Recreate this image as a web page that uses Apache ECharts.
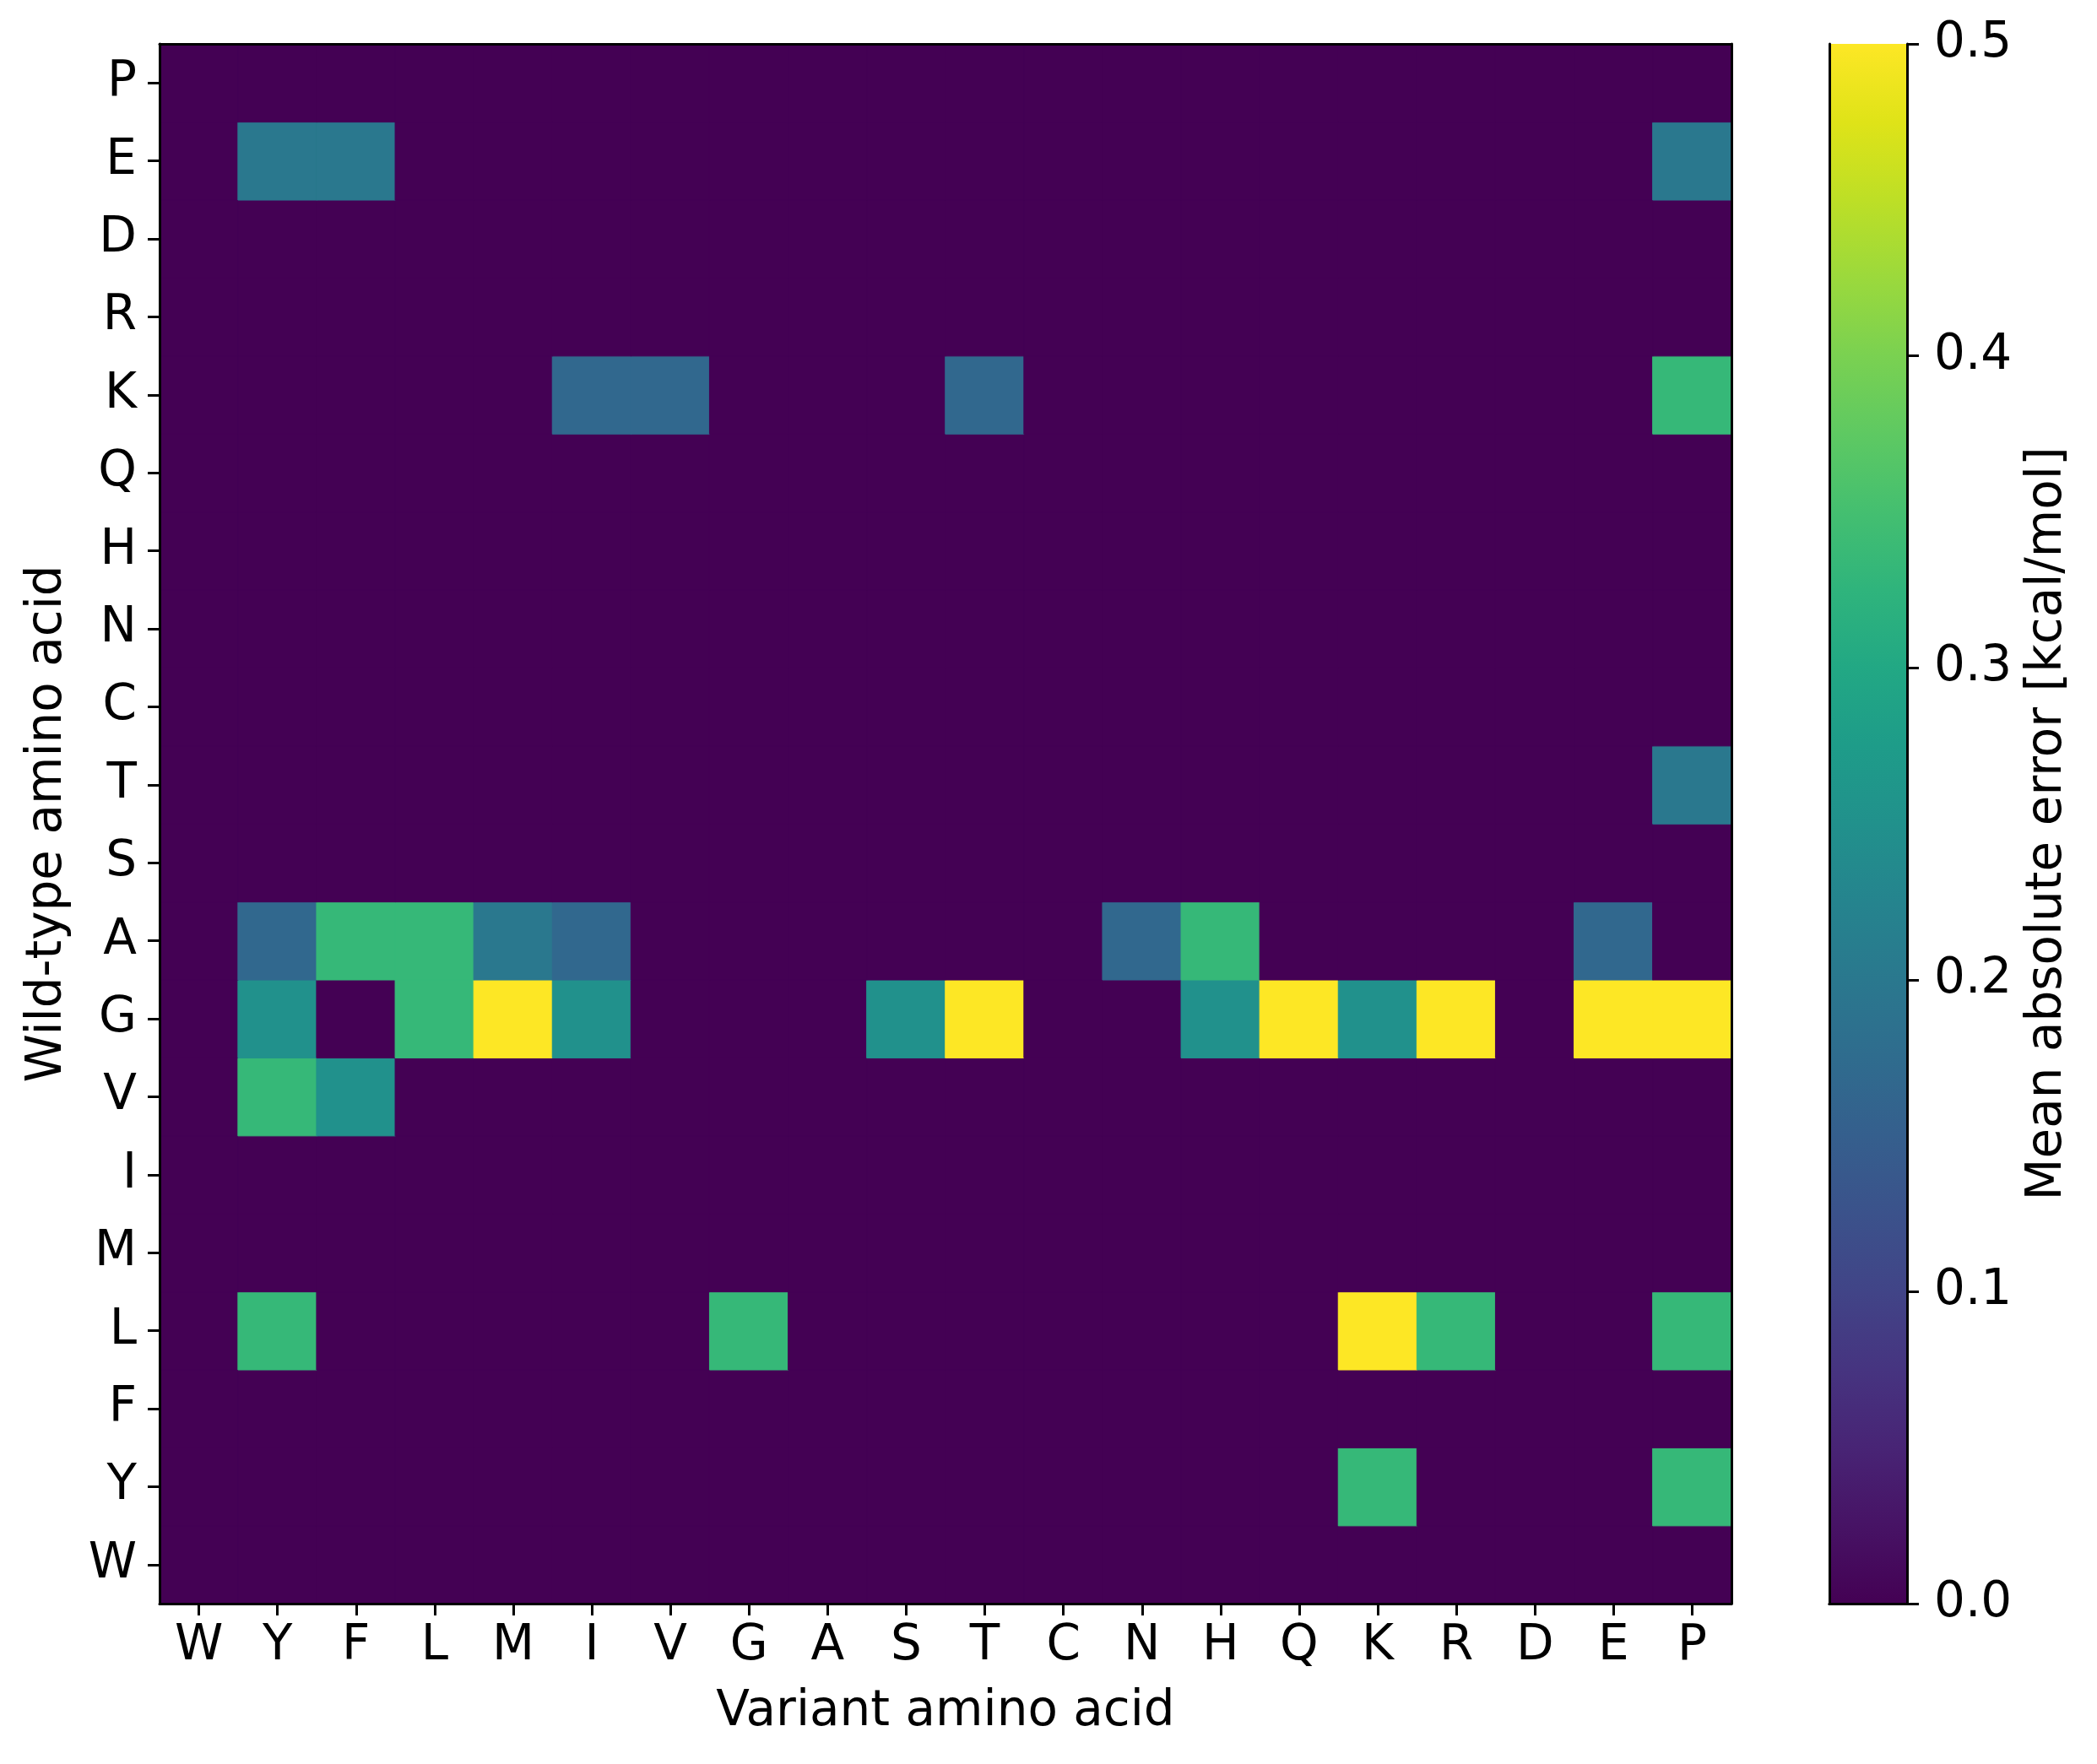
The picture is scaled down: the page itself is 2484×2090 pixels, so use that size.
<!doctype html>
<html lang="en">
<head>
    <meta charset="UTF-8">
    <title>Mean absolute error per mutation</title>
    <style>
        html, body { margin: 0; padding: 0; background: #fff; }
        #main { width: 2484px; height: 2090px; }
    </style>
</head>
<body>
<div id="main"></div>
<script type="text/javascript" src="https://cdn.jsdelivr.net/npm/echarts@6/dist/echarts.min.js"></script>
<script type="text/javascript">
    // amino acids, same order on both axes (y runs bottom to top)
    const aminoAcids = ['W', 'Y', 'F', 'L', 'M', 'I', 'V', 'G', 'A', 'S', 'T', 'C', 'N', 'H', 'Q', 'K', 'R', 'D', 'E', 'P'];
    const cbTicks = [0.0, 0.1, 0.2, 0.3, 0.4, 0.5];

    // one row per wild-type residue, values for variant W..P
    const wtW = [0, 0, 0, 0, 0, 0, 0, 0, 0, 0, 0, 0, 0, 0, 0, 0, 0, 0, 0, 0];
    const wtY = [0, 0, 0, 0, 0, 0, 0, 0, 0, 0, 0, 0, 0, 0, 0, 0.333, 0, 0, 0, 0.333];
    const wtF = [0, 0, 0, 0, 0, 0, 0, 0, 0, 0, 0, 0, 0, 0, 0, 0, 0, 0, 0, 0];
    const wtL = [0, 0.333, 0, 0, 0, 0, 0, 0.333, 0, 0, 0, 0, 0, 0, 0, 0.5, 0.333, 0, 0, 0.333];
    const wtM = [0, 0, 0, 0, 0, 0, 0, 0, 0, 0, 0, 0, 0, 0, 0, 0, 0, 0, 0, 0];
    const wtI = [0, 0, 0, 0, 0, 0, 0, 0, 0, 0, 0, 0, 0, 0, 0, 0, 0, 0, 0, 0];
    const wtV = [0, 0.333, 0.25, 0, 0, 0, 0, 0, 0, 0, 0, 0, 0, 0, 0, 0, 0, 0, 0, 0];
    const wtG = [0, 0.25, 0, 0.333, 0.5, 0.25, 0, 0, 0, 0.25, 0.5, 0, 0, 0.25, 0.5, 0.25, 0.5, 0, 0.5, 0.5];
    const wtA = [0, 0.167, 0.333, 0.333, 0.2, 0.167, 0, 0, 0, 0, 0, 0, 0.167, 0.333, 0, 0, 0, 0, 0.167, 0];
    const wtS = [0, 0, 0, 0, 0, 0, 0, 0, 0, 0, 0, 0, 0, 0, 0, 0, 0, 0, 0, 0];
    const wtT = [0, 0, 0, 0, 0, 0, 0, 0, 0, 0, 0, 0, 0, 0, 0, 0, 0, 0, 0, 0.2];
    const wtC = [0, 0, 0, 0, 0, 0, 0, 0, 0, 0, 0, 0, 0, 0, 0, 0, 0, 0, 0, 0];
    const wtN = [0, 0, 0, 0, 0, 0, 0, 0, 0, 0, 0, 0, 0, 0, 0, 0, 0, 0, 0, 0];
    const wtH = [0, 0, 0, 0, 0, 0, 0, 0, 0, 0, 0, 0, 0, 0, 0, 0, 0, 0, 0, 0];
    const wtQ = [0, 0, 0, 0, 0, 0, 0, 0, 0, 0, 0, 0, 0, 0, 0, 0, 0, 0, 0, 0];
    const wtK = [0, 0, 0, 0, 0, 0.167, 0.167, 0, 0, 0, 0.167, 0, 0, 0, 0, 0, 0, 0, 0, 0.333];
    const wtR = [0, 0, 0, 0, 0, 0, 0, 0, 0, 0, 0, 0, 0, 0, 0, 0, 0, 0, 0, 0];
    const wtD = [0, 0, 0, 0, 0, 0, 0, 0, 0, 0, 0, 0, 0, 0, 0, 0, 0, 0, 0, 0];
    const wtE = [0, 0.2, 0.2, 0, 0, 0, 0, 0, 0, 0, 0, 0, 0, 0, 0, 0, 0, 0, 0, 0.2];
    const wtP = [0, 0, 0, 0, 0, 0, 0, 0, 0, 0, 0, 0, 0, 0, 0, 0, 0, 0, 0, 0];

    // viridis, sampled every 0.05
    const viridis = ['#440154', '#471365', '#482475', '#463480', '#414487', '#3b528b', '#355f8d',
        '#2f6c8e', '#2a788e', '#25848e', '#21918c', '#1e9c89', '#22a884', '#2fb47c', '#44bf70',
        '#5ec962', '#7ad151', '#9bd93c', '#bddf26', '#dfe318', '#fde725'];
    const vMin = cbTicks[0], vMax = cbTicks[cbTicks.length - 1];

    const rowsInOrder = [wtW, wtY, wtF, wtL, wtM, wtI, wtV, wtG, wtA, wtS, wtT, wtC, wtN, wtH, wtQ, wtK, wtR, wtD, wtE, wtP];
    let cells = [];
    rowsInOrder.forEach(function (row, yi) {
        row.forEach(function (v, xi) {
            // colour through viridis, border in the same colour so neighbours meet without seams
            let t = Math.min(1, Math.max(0, (v - vMin) / (vMax - vMin)));
            let c = echarts.color.lerp(t, viridis);
            cells.push({value: [xi, yi, v], itemStyle: {color: c, borderColor: c, borderWidth: 1}});
        });
    });

    const font = 'DejaVu Sans';
    const lineBlack = {show: true, lineStyle: {color: '#000', width: 3}};
    const tickBlack = {show: true, length: 14, lineStyle: {color: '#000', width: 3}};
    const labelBlack = {color: '#000', fontSize: 58, fontFamily: font};
    const nameBlack = {color: '#000', fontSize: 58, fontFamily: font};

    let myChart = echarts.init(document.getElementById('main'));
    let option = {
        animation: false,
        backgroundColor: '#fff',
        grid: [
            {left: 189, top: 52, width: 1862, height: 1848, containLabel: false},
            {left: 2167, top: 52, width: 92, height: 1848, containLabel: false}
        ],
        xAxis: [
            {
                type: 'category', data: aminoAcids, gridIndex: 0, position: 'bottom', z: 10,
                axisLine: lineBlack, axisTick: Object.assign({alignWithLabel: true}, tickBlack),
                axisLabel: Object.assign({margin: 22, interval: 0}, labelBlack),
                splitLine: {show: false},
                name: 'Variant amino acid', nameLocation: 'middle', nameGap: 100, nameTextStyle: nameBlack
            },
            {
                type: 'category', data: aminoAcids, gridIndex: 0, position: 'top', z: 10,
                axisLine: lineBlack, axisTick: {show: false}, axisLabel: {show: false}, splitLine: {show: false}
            },
            {
                type: 'category', data: ['cb'], gridIndex: 1, position: 'bottom', z: 10,
                axisLine: lineBlack, axisTick: {show: false}, axisLabel: {show: false}, splitLine: {show: false}
            },
            {
                type: 'category', data: ['cb'], gridIndex: 1, position: 'top', z: 10,
                axisLine: lineBlack, axisTick: {show: false}, axisLabel: {show: false}, splitLine: {show: false}
            }
        ],
        yAxis: [
            {
                type: 'category', data: aminoAcids, gridIndex: 0, position: 'left', z: 10,
                axisLine: lineBlack, axisTick: Object.assign({alignWithLabel: true}, tickBlack),
                axisLabel: Object.assign({margin: 27, interval: 0}, labelBlack),
                splitLine: {show: false},
                name: 'Wild-type amino acid', nameLocation: 'middle', nameGap: 103, nameTextStyle: nameBlack
            },
            {
                type: 'category', data: aminoAcids, gridIndex: 0, position: 'right', z: 10,
                axisLine: lineBlack, axisTick: {show: false}, axisLabel: {show: false}, splitLine: {show: false}
            },
            {
                type: 'value', gridIndex: 1, position: 'right', z: 10,
                min: vMin, max: vMax, interval: 0.1,
                axisLine: lineBlack, axisTick: tickBlack,
                axisLabel: Object.assign({
                    margin: 32, formatter: function (v) { return v.toFixed(1); }
                }, labelBlack),
                splitLine: {show: false},
                name: 'Mean absolute error [kcal/mol]', nameLocation: 'middle', nameGap: 138,
                nameRotate: 90, nameTextStyle: nameBlack
            },
            {
                type: 'value', gridIndex: 1, position: 'left', z: 10, min: vMin, max: vMax,
                axisLine: lineBlack, axisTick: {show: false}, axisLabel: {show: false}, splitLine: {show: false}
            }
        ],
        series: [
            {
                type: 'heatmap', xAxisIndex: 0, yAxisIndex: 0, data: cells,
                emphasis: {disabled: true}
            },
            {
                type: 'bar', xAxisIndex: 2, yAxisIndex: 2, data: [vMax],
                barWidth: '100%', silent: true,
                itemStyle: {
                    color: {
                        type: 'linear', x: 0, y: 1, x2: 0, y2: 0,
                        colorStops: viridis.map(function (c, i) {
                            return {offset: i / (viridis.length - 1), color: c};
                        })
                    }
                }
            }
        ]
    };
    myChart.setOption(option);
</script>
</body>
</html>
